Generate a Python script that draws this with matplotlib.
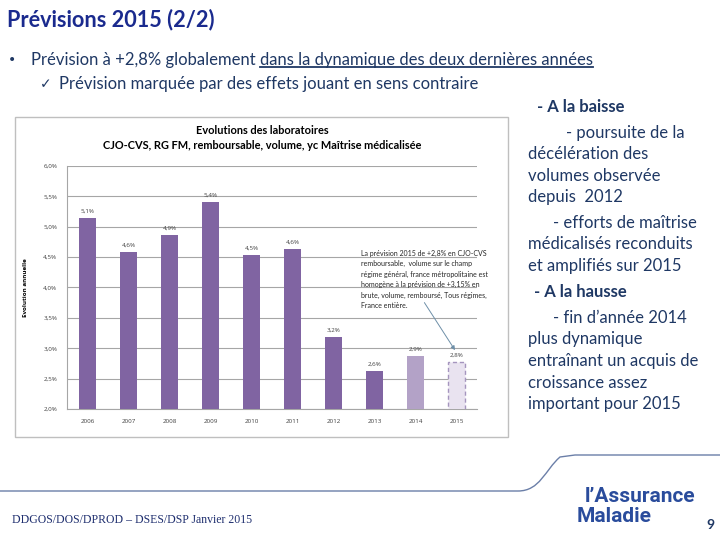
import matplotlib
matplotlib.use("Agg")
import matplotlib.pyplot as plt
from matplotlib.patches import Rectangle
from matplotlib.path import Path
from matplotlib.patches import PathPatch

years = ["2006", "2007", "2008", "2009", "2010", "2011", "2012", "2013", "2014", "2015"]
values = [5.14, 4.58, 4.87, 5.41, 4.53, 4.63, 3.18, 2.63, 2.87, 2.78]
labels = ["5,1%", "4,6%", "4,9%", "5,4%", "4,5%", "4,6%", "3,2%", "2,6%", "2,9%", "2,8%"]
yticks = [2.0, 2.5, 3.0, 3.5, 4.0, 4.5, 5.0, 5.5, 6.0]
ytick_labels = ["2,0%", "2,5%", "3,0%", "3,5%", "4,0%", "4,5%", "5,0%", "5,5%", "6,0%"]

W, H = 720, 540
fig = plt.figure(figsize=(7.2, 5.4), dpi=100)
FONT = "Lato"
SMALL = "Open Sans"
NAVY = "#1A2A8E"
TXT = "#1F3864"

def fx(x):
    return x / W

def fy(y):
    return 1 - y / H

# slide title
fig.text(fx(7), fy(20), "Prévisions 2015 (2/2)", fontsize=15.6, fontweight="bold",
         color=NAVY, family=FONT, va="center", ha="left")

# bullet line
BS = 12
fig.text(fx(8), fy(60), "•", fontsize=10, color=TXT, family="DejaVu Sans", va="center")
t1 = fig.text(fx(31), fy(60), "Prévision à +2,8% globalement ", fontsize=BS, color=TXT,
              family=FONT, va="center")
fig.canvas.draw()
r = fig.canvas.get_renderer()
bb = t1.get_window_extent(r)
t2 = fig.text(bb.x1 / W, fy(60), "dans la dynamique des deux dernières années", fontsize=BS,
              color=TXT, family=FONT, va="center")
bb2 = t2.get_window_extent(r)
fig.add_artist(plt.Line2D([bb2.x0 / W, bb2.x1 / W], [fy(67), fy(67)], color="#1F3864", lw=1.3))

fig.text(fx(40), fy(84), "✓", fontsize=10, color=TXT, family="DejaVu Sans", va="center")
fig.text(fx(59), fy(84), "Prévision marquée par des effets jouant en sens contraire",
         fontsize=BS, color=TXT, family=FONT, va="center")

# right column text
right_lines = [
    (537, 107, "- A la baisse", "bold"),
    (566, 133, "- poursuite de la", "normal"),
    (528, 154, "décélération des", "normal"),
    (528, 176, "volumes observée", "normal"),
    (528, 197, "depuis  2012", "normal"),
    (553, 223, "- efforts de maîtrise", "normal"),
    (528, 244, "médicalisés reconduits", "normal"),
    (528, 266, "et amplifiés sur 2015", "normal"),
    (534, 292, "- A la hausse", "bold"),
    (553, 318, "- fin d\u2019année 2014", "normal"),
    (528, 339, "plus dynamique", "normal"),
    (528, 361, "entraînant un acquis de", "normal"),
    (528, 383, "croissance assez", "normal"),
    (528, 404, "important pour 2015", "normal"),
]
for x, y, s, w in right_lines:
    fig.text(fx(x), fy(y), s, fontsize=12, color=TXT, family=FONT, fontweight=w,
             va="center", ha="left")

# chart frame
fig.add_artist(Rectangle((fx(15), fy(437)), fx(508 - 15), (437 - 117) / H,
                         transform=fig.transFigure, fill=False, edgecolor="#BFBFBF", lw=1))

fig.text(fx(262), fy(130), "Evolutions des laboratoires", fontsize=7.9, fontweight="bold",
         family=FONT, ha="center", va="center", color="#000000")
fig.text(fx(262), fy(145), "CJO-CVS, RG FM, remboursable, volume, yc Maîtrise médicalisée",
         fontsize=7.9, fontweight="bold", family=FONT, ha="center", va="center", color="#000000")

ax = fig.add_axes([fx(67), fy(409), fx(477 - 67), (409 - 166) / H])
colors = ["#8064A2"] * 8 + ["#B3A2C7", "#E9E3F0"]
x = list(range(len(years)))
bars = ax.bar(x, values, width=0.4, color=colors, zorder=3)
bars[-1].set_edgecolor("#A595BE")
bars[-1].set_linestyle((0, (3, 2)))
bars[-1].set_linewidth(1)
for xi, v, lab in zip(x, values, labels):
    ax.text(xi, v + 0.07, lab, ha="center", va="bottom", fontsize=4.5, family=SMALL, color="#404040")

ax.set_xlim(-0.5, 9.5)
ax.set_ylim(2.0, 6.0)
ax.set_yticks(yticks)
ax.set_yticklabels(ytick_labels, fontsize=4.5, family=SMALL, color="#404040")
ax.set_xticks(x)
ax.set_xticklabels(years, fontsize=4.5, family=SMALL, color="#404040")
ax.tick_params(length=0, pad=7)
ax.grid(axis="y", color="#A6A6A6", lw=0.8, zorder=0)
for s in ["top", "right"]:
    ax.spines[s].set_visible(False)
ax.spines["left"].set_color("#A6A6A6")
ax.spines["bottom"].set_color("#A6A6A6")
ax.set_ylabel("Evolution annuelle", fontsize=4.5, fontweight="bold", family=SMALL, labelpad=11)

note = ("La prévision 2015 de +2,8% en CJO-CVS\nremboursable,  volume sur le champ\n"
        "régime général, france métropolitaine est\nhomogène à la prévision de +3,15% en\n"
        "brute, volume, remboursé, Tous régimes,\nFrance entière.")
fig.text(fx(361), fy(250), note, fontsize=5, family=FONT, va="top", ha="left",
         linespacing=1.55, color="#262626")
ax.annotate("", xy=(9.0, 2.93), xytext=(8.18, 3.79),
            arrowprops=dict(arrowstyle="-|>", color="#6E8FA8", lw=0.7, mutation_scale=6))

# footer line
verts = [(fx(0), fy(491)), (fx(518), fy(491)), (fx(540), fy(491)), (fx(545), fy(470)),
         (fx(560), fy(457)), (fx(575), fy(455)), (fx(720), fy(455))]
codes = [Path.MOVETO, Path.LINETO, Path.CURVE4, Path.CURVE4, Path.CURVE4, Path.LINETO, Path.LINETO]
fig.add_artist(PathPatch(Path(verts, codes), transform=fig.transFigure, fill=False,
                         edgecolor="#6B7FA8", lw=1))

fig.text(fx(12), fy(520), "DDGOS/DOS/DPROD \u2013 DSES/DSP Janvier 2015", fontsize=8.5,
         family="Liberation Serif", color="#1F2F6F", va="center")
fig.text(fx(695), fy(497), "l\u2019Assurance", fontsize=15, fontweight="bold",
         family=["Liberation Sans Narrow", "Roboto"],
         color="#2A4C9C", ha="right", va="center")
fig.text(fx(577), fy(516), "Maladie", fontsize=15, fontweight="bold",
         family=["Liberation Sans Narrow", "Roboto"],
         color="#2A4C9C", ha="left", va="center")
fig.text(fx(710), fy(525), "9", fontsize=10, fontweight="bold", family=FONT, color=TXT,
         ha="center", va="center")

fig.savefig("out.png", dpi=100)
